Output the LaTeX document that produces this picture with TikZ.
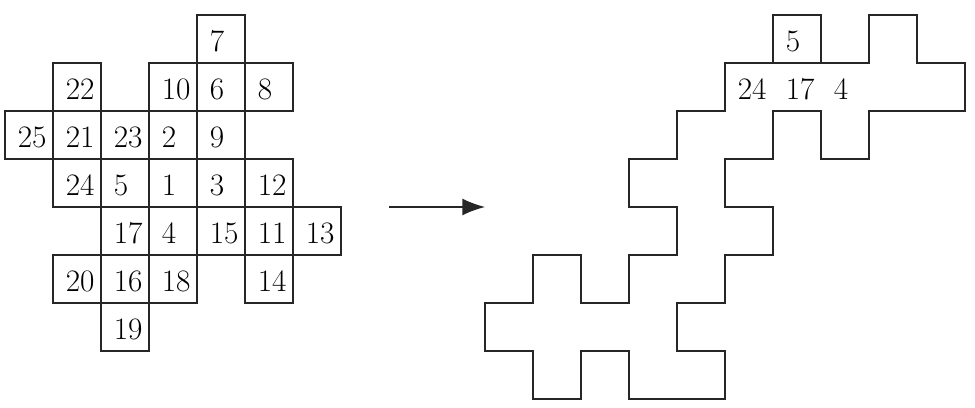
\documentclass[tikz,border=0pt]{standalone}
\usepackage{fontspec}
\usetikzlibrary{arrows.meta}
\tikzset{
  cellline/.style={draw=black!85, line width=0.75pt},
  num/.style={anchor=base west, inner sep=0pt, font=\fontsize{18.5}{20}\selectfont\addfontfeatures{FakeBold=0.9}},
  outline/.style={draw=black!85, line width=0.75pt, line join=miter},
  maparrow/.style={draw=black!85, line width=0.75pt, -{Latex[length=0.47cm,width=0.35cm]}}
}
\begin{document}
\begin{tikzpicture}[x=1cm,y=1cm]
\useasboundingbox (-0.1042,0.3125) rectangle (20.2083,-8.1875);
% left grid of numbered cells
\foreach \i/\j/\t in {4/0/7,
  1/1/22, 3/1/10, 4/1/6, 5/1/8,
  0/2/25, 1/2/21, 2/2/23, 3/2/2, 4/2/9,
  1/3/24, 2/3/5, 3/3/1, 4/3/3, 5/3/12,
  2/4/17, 3/4/4, 4/4/15, 5/4/11, 6/4/13,
  1/5/20, 2/5/16, 3/5/18, 5/5/14,
  2/6/19}{
  \draw[cellline] (\i,-\j) rectangle ++(1,-1);
  \node[num] (L\t) at (\i+0.26,-\j-0.77) {\t};
}
% arrow
\coordinate (arrS) at (8,-4);
\coordinate (arrE) at (10,-4);
\draw[maparrow] (arrS) -- (arrE);
% right figure
\draw[outline] (15,-1) -- (18,-1) -- (18,0) -- (19,0) -- (19,-1) -- (20,-1) -- (20,-2)
  -- (18,-2) -- (18,-3) -- (17,-3) -- (17,-2) -- (16,-2) -- (16,-3) -- (15,-3)
  -- (15,-4) -- (16,-4) -- (16,-5) -- (15,-5) -- (15,-6) -- (14,-6) -- (14,-7)
  -- (15,-7) -- (15,-8) -- (13,-8) -- (13,-7) -- (12,-7) -- (12,-8) -- (11,-8)
  -- (11,-7) -- (10,-7) -- (10,-6) -- (11,-6) -- (11,-5) -- (12,-5) -- (12,-6)
  -- (13,-6) -- (13,-5) -- (14,-5) -- (14,-4) -- (13,-4) -- (13,-3) -- (14,-3)
  -- (14,-2) -- (15,-2) -- cycle;
\draw[cellline] (16,0) rectangle (17,-1);
\node[num] (R5) at (16.26,-0.77) {5};
\node[num] (R24) at (15.26,-1.77) {24};
\node[num] (R17) at (16.26,-1.77) {17};
\node[num] (R4) at (17.26,-1.77) {4};
\end{tikzpicture}
\end{document}
